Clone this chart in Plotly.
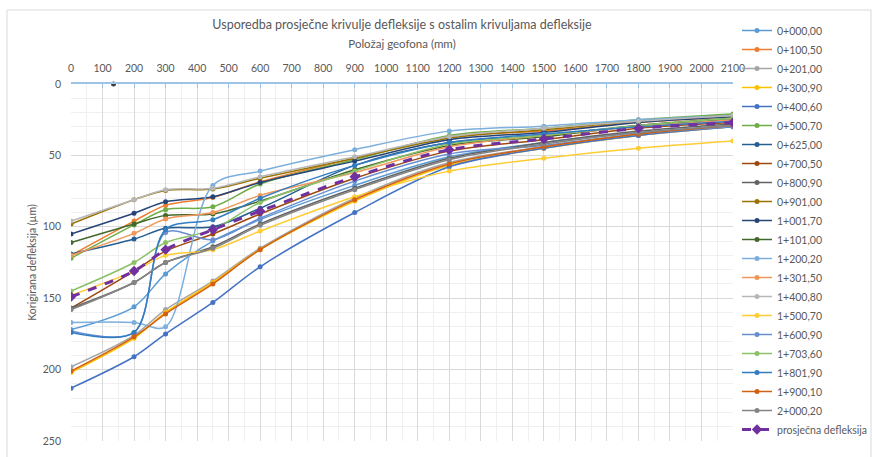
import plotly.graph_objects as go

x_pos = [0, 200, 300, 450, 600, 900, 1200, 1500, 1800, 2100]

names = ["0+000,00", "0+100,50", "0+201,00", "0+300,90", "0+400,60", "0+500,70",
         "0+625,00", "0+700,50", "0+800,90", "0+901,00", "1+001,70", "1+101,00",
         "1+200,20", "1+301,50", "1+400,80", "1+500,70", "1+600,90", "1+703,60",
         "1+801,90", "1+900,10", "2+000,20"]

colors = ["#5B9BD5", "#ED7D31", "#A5A5A5", "#FFC000", "#4472C4", "#70AD47",
          "#255E91", "#9E480E", "#636363", "#997300", "#264478", "#43682B",
          "#7CAFDD", "#F1975A", "#B7B7B7", "#FFCD33", "#698ED0", "#8CC168",
          "#327DC2", "#D26012", "#848484"]

s_0_000 = [172, 156, 133, 110, 95, 71, 51, 41, 34, 29]
s_0_100 = [120, 96, 85, 79.5, 68.5, 52, 37, 33, 27, 23]
s_0_201 = [198, 176, 158, 138, 115, 80, 55, 44, 36, 30]
s_0_300 = [202, 178, 160, 139, 116, 82, 57, 45, 36, 30]
s_0_400 = [213, 191, 175, 153, 128, 90, 58, 45, 36, 30]
s_0_500 = [122, 98.7, 88, 86, 70, 53, 36, 31, 25, 21]
s_0_625 = [119, 108.6, 101, 100, 87, 57, 41, 36, 29, 25]
s_0_700 = [157, 131, 117, 105, 91, 66, 47, 39, 31, 27]
s_0_800 = [157, 139, 125, 114, 98, 73, 52, 41, 33, 28]
s_0_901 = [98, 81, 74.5, 73.5, 66, 52, 38, 32, 26, 22]
s_1_001 = [105, 90.5, 82.5, 79, 69, 54, 39, 34, 27, 23]
s_1_101 = [111, 98, 92, 91, 82, 60, 43, 37, 29, 24]
s_1_200 = [167, 167, 170, 71, 61, 46, 33, 29.5, 25, 22]
s_1_301 = [120, 104.6, 94.5, 90, 78, 62, 44, 36, 30, 25]
s_1_400 = [96, 81, 74, 73, 65, 51, 37, 31, 26, 22]
s_1_500 = [148, 131, 120, 116, 103, 79, 61, 52, 45, 40]
s_1_600 = [173, 174, 104, 109, 94, 68, 49, 43, 35, 30]
s_1_703 = [145, 125, 111, 102, 83, 61, 42, 36, 29, 24]
s_1_801 = [174, 174, 102, 95, 80, 57, 41, 35, 30, 26]
s_1_900 = [201, 177, 161, 140, 116, 81, 56, 44, 35, 29]
s_2_000 = [158, 139, 125, 115, 99, 74, 53, 42, 34, 29]

avg_name = "prosječna defleksija"
avg_vals = [149, 131, 116, 102, 89, 65, 46, 38.5, 31, 27]

stray_x = [135]
stray_y = [0]

series = [s_0_000, s_0_100, s_0_201, s_0_300, s_0_400, s_0_500, s_0_625, s_0_700,
          s_0_800, s_0_901, s_1_001, s_1_101, s_1_200, s_1_301, s_1_400, s_1_500,
          s_1_600, s_1_703, s_1_801, s_1_900, s_2_000]

fig = go.Figure()
for n, c, v in zip(names, colors, series):
    fig.add_trace(go.Scatter(
        x=x_pos, y=v, name=n, mode="lines+markers",
        line=dict(color=c, width=1.5, shape="spline", smoothing=0.9),
        marker=dict(color=c, size=5, symbol="circle")))

fig.add_trace(go.Scatter(
    x=x_pos, y=avg_vals, name=avg_name, mode="lines+markers",
    line=dict(color="#7030A0", width=3, dash="dash", shape="spline", smoothing=0.9),
    marker=dict(color="#7030A0", size=8, symbol="diamond")))

fig.add_trace(go.Scatter(
    x=stray_x, y=stray_y, mode="markers", showlegend=False, hoverinfo="skip",
    marker=dict(color="#404040", size=5), cliponaxis=False))

font_family = "Lato, Open Sans, sans-serif"
gray_txt = "#595959"

fig.update_layout(
    width=872, height=457,
    margin=dict(l=71, r=139, t=84, b=16, autoexpand=False),
    paper_bgcolor="white", plot_bgcolor="white",
    font=dict(family=font_family, color=gray_txt, size=11),
    title=dict(text="Usporedba prosječne krivulje defleksije s ostalim krivuljama defleksije",
               x=(71 + 733) / 2 / 872, xanchor="center", y=1 - 25 / 457, yanchor="middle",
               font=dict(size=12.5, color=gray_txt, family=font_family)),
    xaxis=dict(
        side="top", range=[0, 2100], dtick=100, tick0=0, automargin=False,
        showgrid=True, gridcolor="#D9D9D9", gridwidth=1,
        minor=dict(dtick=50, showgrid=True, gridcolor="#EFEFEF", gridwidth=1),
        showline=True, linecolor="#9DC3E6", linewidth=1.5,
        ticks="inside", ticklen=4, tickcolor="#9DC3E6",
        tickfont=dict(size=10.5, color=gray_txt), ticklabelstandoff=6,
        title=dict(text="Položaj geofona (mm)", font=dict(size=11.5, color=gray_txt), standoff=11),
        zeroline=False, mirror=False),
    yaxis=dict(
        range=[250, 0], dtick=50, tick0=0, automargin=False,
        showgrid=True, gridcolor="#D9D9D9", gridwidth=1,
        minor=dict(dtick=10, showgrid=True, gridcolor="#EFEFEF", gridwidth=1),
        showline=False, zeroline=False, ticks="",
        tickfont=dict(size=10.5, color=gray_txt), ticklabelstandoff=9,
        title=dict(text="Korigirana defleksija (µm)", font=dict(size=10.5, color=gray_txt), standoff=4)),
    legend=dict(x=(737 - 71) / 662, y=(441 - 16) / 357, xanchor="left", yanchor="top",
                font=dict(size=10.5, color=gray_txt), bgcolor="rgba(0,0,0,0)",
                tracegroupgap=0, itemwidth=30, maxheight=450),
    showlegend=True,
)

fig.add_shape(type="rect", xref="paper", yref="paper",
              x0=-64 / 662, x1=(871 - 71) / 662, y0=-20 / 357, y1=(441 - 10) / 357,
              line=dict(color="#D9D9D9", width=1), fillcolor="rgba(0,0,0,0)", layer="below")

fig.write_html("out.html", config={"displayModeBar": False},
               post_script="document.body.style.margin='0';document.body.style.overflow='hidden';")
